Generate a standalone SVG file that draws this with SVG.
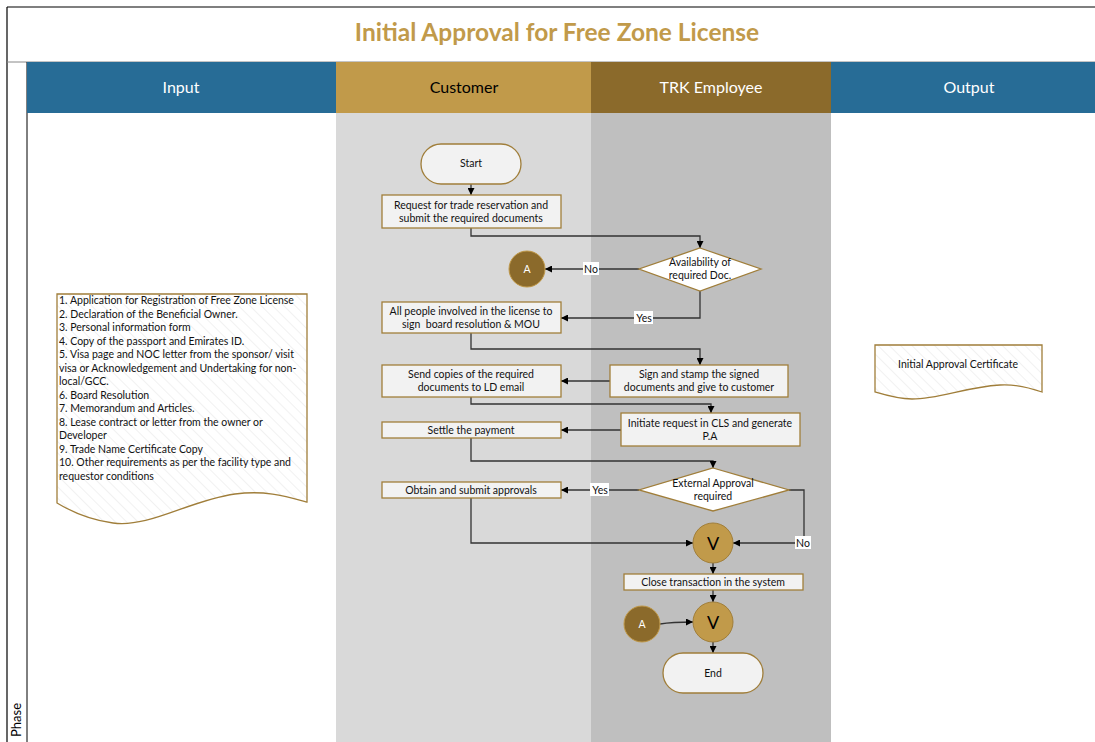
<svg xmlns="http://www.w3.org/2000/svg" width="1095" height="742" viewBox="0 0 1095 742">
<defs>
<style>
.t{font-family:Lato,"Open Sans","Liberation Sans",sans-serif;}
.box{fill:#F2F2F2;stroke:#A07E3A;stroke-width:1.3;}
.bt{font-family:Lato,"Open Sans","Liberation Sans",sans-serif;font-size:10.5px;fill:#111;text-anchor:middle;}
.hd{font-family:Lato,"Open Sans","Liberation Sans",sans-serif;font-size:16px;text-anchor:middle;}
.con{fill:none;stroke:#333;stroke-width:1.3;marker-end:url(#ah);}
.lbl{font-family:Lato,"Open Sans","Liberation Sans",sans-serif;font-size:10.5px;fill:#111;text-anchor:middle;}
.lblbg{fill:#fff;}
.doc{fill:url(#hatch);stroke:#A07E3A;stroke-width:1.3;}
.dt{font-family:Lato,"Open Sans","Liberation Sans",sans-serif;font-size:10.5px;fill:#111;}
</style>
<marker id="ah" viewBox="0 0 10 10" refX="10" refY="5" markerWidth="7" markerHeight="7" markerUnits="userSpaceOnUse" orient="auto">
<path d="M0,0 L10,5 L0,10 z" fill="#000"/>
</marker>
<pattern id="hatch" patternUnits="userSpaceOnUse" width="8" height="8" patternTransform="rotate(-45)">
<rect width="8" height="8" fill="#fff"/>
<line x1="0" y1="0" x2="0" y2="8" stroke="#E4E4E4" stroke-width="1"/>
</pattern>
</defs>

<rect x="0" y="0" width="1095" height="742" fill="#fff"/>

<g id="title">
<line x1="7" y1="7" x2="1095" y2="7" stroke="#000" stroke-width="1.2"/>
<line x1="7" y1="7" x2="7" y2="742" stroke="#000" stroke-width="1.2"/>
<line x1="7" y1="62" x2="1095" y2="62" stroke="#888" stroke-width="1"/>
<text x="557" y="41" class="t" font-size="24.5" font-weight="bold" fill="#C19A4A" text-anchor="middle">Initial Approval for Free Zone License</text>
</g>

<g id="phase">
<line x1="27" y1="62" x2="27" y2="742" stroke="#000" stroke-width="1"/>
<text transform="translate(21,720) rotate(-90)" class="t" font-size="13" fill="#000" text-anchor="middle">Phase</text>
</g>

<g id="lanes">
<rect x="27" y="62" width="309" height="51" fill="#276C96"/>
<rect x="336" y="62" width="255" height="51" fill="#C19A4A"/>
<rect x="591" y="62" width="240" height="51" fill="#8B6A2B"/>
<rect x="831" y="62" width="264" height="51" fill="#276C96"/>
<rect x="336" y="113" width="255" height="629" fill="#D9D9D9"/>
<rect x="591" y="113" width="240" height="629" fill="#BFBFBF"/>
<text x="181" y="93" class="hd" fill="#fff">Input</text>
<text x="464" y="93" class="hd" fill="#000">Customer</text>
<text x="711" y="93" class="hd" fill="#fff">TRK Employee</text>
<text x="969" y="93" class="hd" fill="#fff">Output</text>
</g>

<g id="connectors">
<path class="con" d="M471,184 L471,195"/>
<path class="con" d="M471,228 L471,236 L700,236 L700,248"/>
<path class="con" d="M639,269 L545,269"/>
<path class="con" d="M700,291 L700,318 L561,318"/>
<path class="con" d="M471,333 L471,349 L700,349 L700,365"/>
<path class="con" d="M610,381 L561,381"/>
<path class="con" d="M471,397 L471,404 L711,404 L711,413"/>
<path class="con" d="M621,430 L561,430"/>
<path class="con" d="M471,438 L471,461 L713,461 L713,468"/>
<path class="con" d="M639,490 L561,490"/>
<path class="con" d="M471,498 L471,543 L693,543"/>
<path class="con" d="M789,490 L804,490 L804,543 L733,543"/>
<path class="con" d="M713,563 L713,574"/>
<path class="con" d="M713,590 L713,602"/>
<path class="con" d="M660,624 C672,622 680,622 693,622"/>
<path class="con" d="M713,642 L713,653"/>
<rect class="lblbg" x="583" y="262" width="16" height="13"/>
<text class="lbl" x="591" y="273">No</text>
<rect class="lblbg" x="634" y="311" width="19" height="13"/>
<text class="lbl" x="644" y="322">Yes</text>
<rect class="lblbg" x="590" y="483" width="19" height="13"/>
<text class="lbl" x="600" y="494">Yes</text>
<rect class="lblbg" x="795" y="536" width="16" height="13"/>
<text class="lbl" x="803" y="547">No</text>
</g>

<g id="start">
<rect class="box" x="421" y="144" width="100" height="40" rx="20" ry="20"/>
<text class="bt" x="471" y="167">Start</text>
</g>
<g id="request">
<rect class="box" x="382" y="195" width="179" height="33"/>
<text class="bt" x="471" y="209">Request for trade reservation and</text>
<text class="bt" x="471" y="222">submit the required documents</text>
</g>
<g id="availability">
<polygon class="box" points="700,248 761,269 700,291 639,269" style="fill:#fff"/>
<text class="bt" x="700" y="266">Availability of</text>
<text class="bt" x="700" y="279">required Doc.</text>
</g>
<g id="connectorA1">
<circle cx="527" cy="269" r="18" fill="#8B6A2B" stroke="#C19A4A" stroke-width="1"/>
<text class="bt" x="527" y="273" style="fill:#fff">A</text>
</g>
<g id="signBoard">
<rect class="box" x="382" y="302" width="179" height="31"/>
<text class="bt" x="471" y="315">All people involved in the license to</text>
<text class="bt" x="471" y="328" style="white-space:pre">sign  board resolution &amp; MOU</text>
</g>
<g id="signStamp">
<rect class="box" x="610" y="365" width="178" height="32"/>
<text class="bt" x="699" y="378">Sign and stamp the signed</text>
<text class="bt" x="699" y="391">documents and give to customer</text>
</g>
<g id="sendCopies">
<rect class="box" x="382" y="365" width="179" height="32"/>
<text class="bt" x="471" y="378">Send copies of the required</text>
<text class="bt" x="471" y="391">documents to LD email</text>
</g>
<g id="initiate">
<rect class="box" x="621" y="413" width="179" height="33"/>
<text class="bt" x="710" y="427">Initiate request in CLS and generate</text>
<text class="bt" x="710" y="440">P.A</text>
</g>
<g id="settle">
<rect class="box" x="382" y="422" width="179" height="16"/>
<text class="bt" x="471" y="434">Settle the payment</text>
</g>
<g id="external">
<polygon class="box" points="713,468 789,490 713,511 639,490" style="fill:#fff"/>
<text class="bt" x="713" y="487">External Approval</text>
<text class="bt" x="713" y="500">required</text>
</g>
<g id="obtain">
<rect class="box" x="382" y="482" width="179" height="16"/>
<text class="bt" x="471" y="494">Obtain and submit approvals</text>
</g>
<g id="merge1">
<circle cx="713" cy="543" r="20" fill="#C19A4A" stroke="#A07E3A" stroke-width="1"/>
<text x="713" y="550" class="t" font-size="18" fill="#000" text-anchor="middle">V</text>
</g>
<g id="close">
<rect class="box" x="624" y="574" width="179" height="16"/>
<text class="bt" x="713" y="586">Close transaction in the system</text>
</g>
<g id="merge2">
<circle cx="713" cy="622" r="20" fill="#C19A4A" stroke="#A07E3A" stroke-width="1"/>
<text x="713" y="629" class="t" font-size="18" fill="#000" text-anchor="middle">V</text>
</g>
<g id="connectorA2">
<circle cx="642" cy="624" r="18" fill="#8B6A2B" stroke="#C19A4A" stroke-width="1"/>
<text class="bt" x="642" y="628" style="fill:#fff">A</text>
</g>
<g id="end">
<rect class="box" x="663" y="653" width="100" height="40" rx="20" ry="20"/>
<text class="bt" x="713" y="677">End</text>
</g>

<g id="inputDoc">
<path class="doc" d="M57,294 L307,294 L307,502 C285,496 265,490 235,494 C190,500 150,528 113,523 C90,520 72,512 57,503 Z"/>
<text class="dt" x="59" y="304">1. Application for Registration of Free Zone License</text>
<text class="dt" x="59" y="317.5">2. Declaration of the Beneficial Owner.</text>
<text class="dt" x="59" y="331">3. Personal information form</text>
<text class="dt" x="59" y="344.5">4. Copy of the passport and Emirates ID.</text>
<text class="dt" x="59" y="358">5. Visa page and NOC letter from the sponsor/ visit</text>
<text class="dt" x="59" y="371.5">visa or Acknowledgement and Undertaking for non-</text>
<text class="dt" x="59" y="385">local/GCC.</text>
<text class="dt" x="59" y="398.5">6. Board Resolution</text>
<text class="dt" x="59" y="412">7. Memorandum and Articles.</text>
<text class="dt" x="59" y="425.5">8. Lease contract or letter from the owner or</text>
<text class="dt" x="59" y="439">Developer</text>
<text class="dt" x="59" y="452.5">9. Trade Name Certificate Copy</text>
<text class="dt" x="59" y="466">10. Other requirements as per the facility type and</text>
<text class="dt" x="59" y="479.5">requestor conditions</text>
</g>

<g id="outputDoc">
<path class="doc" d="M875,345 L1042,345 L1042,392 C1030,388 1015,384 1000,385 C965,387 940,399 912,399 C898,399 885,395 875,392 Z"/>
<text class="bt" x="958" y="368">Initial Approval Certificate</text>
</g>
</svg>
